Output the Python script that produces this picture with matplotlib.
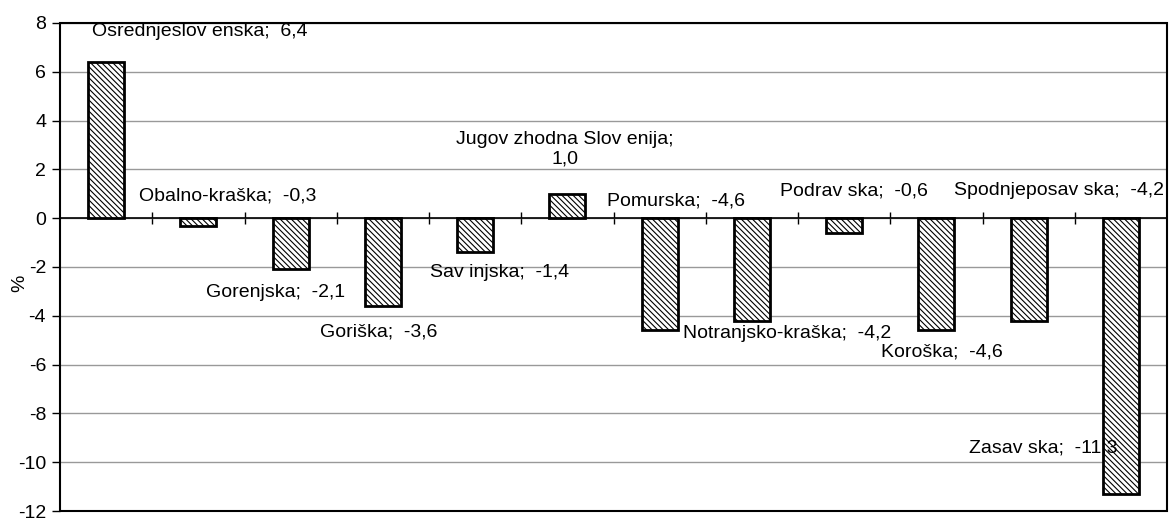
import matplotlib.pyplot as plt
from matplotlib.patches import Rectangle

plt.rcParams['font.family'] = ['Liberation Sans', 'DejaVu Sans']
plt.rcParams['hatch.linewidth'] = 0.8

# Data
regions = ["Osrednjeslov enska", "Obalno-kraška", "Gorenjska", "Goriška", "Sav injska",
           "Jugov zhodna Slov enija", "Pomurska", "Notranjsko-kraška", "Podrav ska",
           "Koroška", "Spodnjeposav ska", "Zasav ska"]
values = [6.4, -0.3, -2.1, -3.6, -1.4, 1.0, -4.6, -4.2, -0.6, -4.6, -4.2, -11.3]
yticks = [-12, -10, -8, -6, -4, -2, 0, 2, 4, 6, 8]

# where each data label sits (x index, y value), as placed in the original
label_pos = [(1.01, 7.65), (1.32, 0.89), (1.84, -3.04), (2.95, -4.66), (4.27, -2.23),
             (4.97, 2.83), (6.18, 0.69), (7.38, -4.72), (8.11, 1.13), (9.06, -5.47),
             (10.33, 1.13), (10.16, -9.43)]

fig = plt.figure(figsize=(11.69, 5.22), dpi=100)
ax = fig.add_axes([60 / 1169, 11 / 522, 1107 / 1169, 488 / 522])

x = list(range(len(values)))
ax.bar(x, values, width=0.39, color='white', edgecolor='black', linewidth=2,
       hatch='\\\\\\\\\\\\', zorder=3)

for i, (name, v) in enumerate(zip(regions, values)):
    num = f"{v:.1f}".replace('.', ',')
    sep = ";\n" if i == 5 else ";  "
    lx, ly = label_pos[i]
    ax.text(lx, ly, name + sep + num, ha='center', va='center', fontsize=14,
            linespacing=1.2, zorder=4)

ax.set_xlim(-0.5, len(values) - 0.5)
ax.set_ylim(-12, 8)
ax.set_yticks(yticks)
ax.set_yticklabels([str(t) for t in yticks], fontsize=14)
ax.yaxis.grid(True, color='#999999', linewidth=1)
ax.set_axisbelow(True)
ax.tick_params(axis='y', length=6, width=1, pad=4)

# category axis sits at zero with ticks between categories
ax.spines['bottom'].set_position(('data', 0))
ax.spines['bottom'].set_linewidth(1.2)
ax.set_xticks([i + 0.5 for i in range(len(values) - 1)])
ax.set_xticklabels([])
ax.tick_params(axis='x', direction='inout', length=8, width=1)
for s in ['top', 'right', 'left']:
    ax.spines[s].set_visible(False)
ax.add_patch(Rectangle((0, 0), 1, 1, transform=ax.transAxes, fill=False,
                       edgecolor='black', linewidth=1.5, zorder=5, clip_on=False))

ax.set_ylabel('%', fontsize=14)
ax.yaxis.set_label_coords(-0.029, 0.466)

fig.savefig('out.png', dpi=100)
